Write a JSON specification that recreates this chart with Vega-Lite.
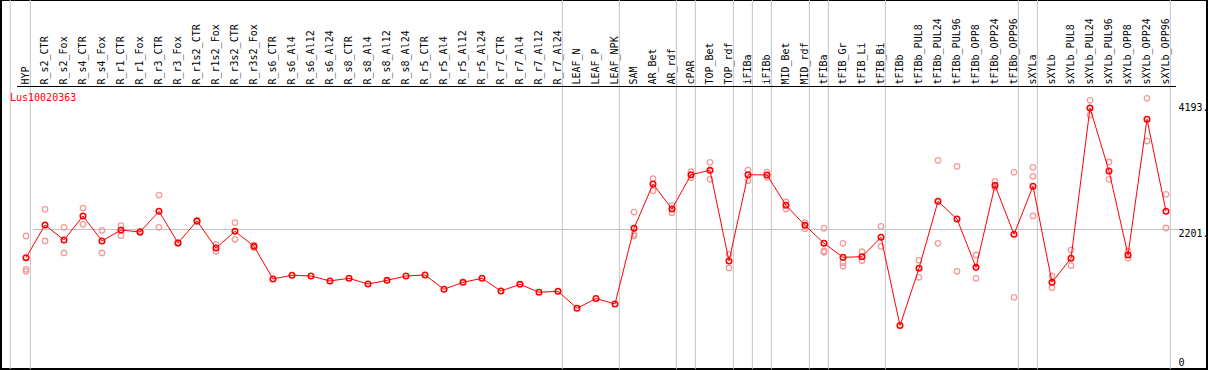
{
  "$schema": "https://vega.github.io/schema/vega-lite/v6.json",
  "width": 1206,
  "height": 369,
  "autosize": "none",
  "padding": {"left": 1, "top": 0, "right": 2, "bottom": 1},
  "background": "white",
  "title": {
    "text": "Lus10020363",
    "anchor": "start",
    "frame": "group",
    "orient": "top",
    "offset": -108,
    "baseline": "middle",
    "dx": 9,
    "color": "#ff0000",
    "font": "DejaVu Sans Mono",
    "fontSize": 10,
    "fontWeight": "normal"
  },
  "datasets": {
    "means": [
      {"cat": "HYP", "v": 1727}, {"cat": "R_s2_CTR", "v": 2265}, {"cat": "R_s2_Fox", "v": 2018},
      {"cat": "R_s4_CTR", "v": 2414}, {"cat": "R_s4_Fox", "v": 2002}, {"cat": "R_r1_CTR", "v": 2183},
      {"cat": "R_r1_Fox", "v": 2150}, {"cat": "R_r3_CTR", "v": 2491}, {"cat": "R_r3_Fox", "v": 1969},
      {"cat": "R_r1s2_CTR", "v": 2331}, {"cat": "R_r1s2_Fox", "v": 1886}, {"cat": "R_r3s2_CTR", "v": 2161},
      {"cat": "R_r3s2_Fox", "v": 1914}, {"cat": "R_s6_CTR", "v": 1376}, {"cat": "R_s6_Al4", "v": 1438},
      {"cat": "R_s6_Al12", "v": 1425}, {"cat": "R_s6_Al24", "v": 1343}, {"cat": "R_s8_CTR", "v": 1387},
      {"cat": "R_s8_Al4", "v": 1293}, {"cat": "R_s8_Al12", "v": 1354}, {"cat": "R_s8_Al24", "v": 1425},
      {"cat": "R_r5_CTR", "v": 1442}, {"cat": "R_r5_Al4", "v": 1206}, {"cat": "R_r5_Al12", "v": 1321},
      {"cat": "R_r5_Al24", "v": 1387}, {"cat": "R_r7_CTR", "v": 1178}, {"cat": "R_r7_Al4", "v": 1288},
      {"cat": "R_r7_Al12", "v": 1157}, {"cat": "R_r7_Al24", "v": 1173}, {"cat": "LEAF_N", "v": 893},
      {"cat": "LEAF_P", "v": 1054}, {"cat": "LEAF_NPK", "v": 964}, {"cat": "SAM", "v": 2211},
      {"cat": "AR_Bet", "v": 2941}, {"cat": "AR_rdf", "v": 2529}, {"cat": "cPAR", "v": 3094},
      {"cat": "TOP_Bet", "v": 3166}, {"cat": "TOP_rdf", "v": 1672}, {"cat": "iFIBa", "v": 3094},
      {"cat": "iFIBb", "v": 3090}, {"cat": "MID_Bet", "v": 2590}, {"cat": "MID_rdf", "v": 2260},
      {"cat": "tFIBa", "v": 1964}, {"cat": "tFIB_Gr", "v": 1733}, {"cat": "tFIB_Li", "v": 1743},
      {"cat": "tFIB_Bi", "v": 2063}, {"cat": "tFIBb", "v": 610}, {"cat": "tFIBb_PUL8", "v": 1552},
      {"cat": "tFIBb_PUL24", "v": 2656}, {"cat": "tFIBb_PUL96", "v": 2364}, {"cat": "tFIBb_OPP8", "v": 1568},
      {"cat": "tFIBb_OPP24", "v": 2919}, {"cat": "tFIBb_OPP96", "v": 2112}, {"cat": "sXYLa", "v": 2903},
      {"cat": "sXYLb", "v": 1321}, {"cat": "sXYLb_PUL8", "v": 1717}, {"cat": "sXYLb_PUL24", "v": 4193},
      {"cat": "sXYLb_PUL96", "v": 3155}, {"cat": "sXYLb_OPP8", "v": 1771}, {"cat": "sXYLb_OPP24", "v": 4007},
      {"cat": "sXYLb_OPP96", "v": 2491}
    ],
    "reps": [
      {"cat": "HYP", "v": 2084}, {"cat": "HYP", "v": 1535}, {"cat": "HYP", "v": 1502},
      {"cat": "R_s2_CTR", "v": 2524}, {"cat": "R_s2_CTR", "v": 2002},
      {"cat": "R_s2_Fox", "v": 2227}, {"cat": "R_s2_Fox", "v": 1804},
      {"cat": "R_s4_CTR", "v": 2545}, {"cat": "R_s4_CTR", "v": 2277},
      {"cat": "R_s4_Fox", "v": 2178}, {"cat": "R_s4_Fox", "v": 1804},
      {"cat": "R_r1_CTR", "v": 2254}, {"cat": "R_r1_CTR", "v": 2089},
      {"cat": "R_r1_Fox", "v": 2160}, {"cat": "R_r1_Fox", "v": 2140},
      {"cat": "R_r3_CTR", "v": 2759}, {"cat": "R_r3_CTR", "v": 2227},
      {"cat": "R_r3_Fox", "v": 1975}, {"cat": "R_r3_Fox", "v": 1963},
      {"cat": "R_r1s2_CTR", "v": 2340}, {"cat": "R_r1s2_CTR", "v": 2322},
      {"cat": "R_r1s2_Fox", "v": 1947}, {"cat": "R_r1s2_Fox", "v": 1832},
      {"cat": "R_r3s2_CTR", "v": 2303}, {"cat": "R_r3s2_CTR", "v": 2030},
      {"cat": "R_r3s2_Fox", "v": 1935}, {"cat": "R_r3s2_Fox", "v": 1893},
      {"cat": "SAM", "v": 2479}, {"cat": "SAM", "v": 2112}, {"cat": "SAM", "v": 2084},
      {"cat": "AR_Bet", "v": 3028}, {"cat": "AR_Bet", "v": 2830},
      {"cat": "AR_rdf", "v": 2590}, {"cat": "AR_rdf", "v": 2468},
      {"cat": "cPAR", "v": 3143}, {"cat": "cPAR", "v": 3044},
      {"cat": "TOP_Bet", "v": 3298}, {"cat": "TOP_Bet", "v": 3018},
      {"cat": "TOP_rdf", "v": 1783}, {"cat": "TOP_rdf", "v": 1557},
      {"cat": "iFIBa", "v": 3171}, {"cat": "iFIBa", "v": 2995},
      {"cat": "iFIBb", "v": 3138}, {"cat": "iFIBb", "v": 3051},
      {"cat": "MID_Bet", "v": 2644}, {"cat": "MID_Bet", "v": 2529},
      {"cat": "MID_rdf", "v": 2303}, {"cat": "MID_rdf", "v": 2204},
      {"cat": "tFIBa", "v": 2211}, {"cat": "tFIBa", "v": 1837}, {"cat": "tFIBa", "v": 1816},
      {"cat": "tFIB_Gr", "v": 1964}, {"cat": "tFIB_Gr", "v": 1644}, {"cat": "tFIB_Gr", "v": 1585},
      {"cat": "tFIB_Li", "v": 1825}, {"cat": "tFIB_Li", "v": 1677},
      {"cat": "tFIB_Bi", "v": 2244}, {"cat": "tFIB_Bi", "v": 1914},
      {"cat": "tFIBb_PUL8", "v": 1684}, {"cat": "tFIBb_PUL8", "v": 1404},
      {"cat": "tFIBb_PUL24", "v": 3331}, {"cat": "tFIBb_PUL24", "v": 1964},
      {"cat": "tFIBb_PUL96", "v": 3232}, {"cat": "tFIBb_PUL96", "v": 1502},
      {"cat": "tFIBb_OPP8", "v": 1771}, {"cat": "tFIBb_OPP8", "v": 1387},
      {"cat": "tFIBb_OPP24", "v": 2985}, {"cat": "tFIBb_OPP24", "v": 2886},
      {"cat": "tFIBb_OPP96", "v": 3133}, {"cat": "tFIBb_OPP96", "v": 1074},
      {"cat": "sXYLa", "v": 3216}, {"cat": "sXYLa", "v": 3068}, {"cat": "sXYLa", "v": 2414},
      {"cat": "sXYLb", "v": 1425}, {"cat": "sXYLb", "v": 1232},
      {"cat": "sXYLb_PUL8", "v": 1853}, {"cat": "sXYLb_PUL8", "v": 1595},
      {"cat": "sXYLb_PUL24", "v": 4320}, {"cat": "sXYLb_PUL24", "v": 4077},
      {"cat": "sXYLb_PUL96", "v": 3303}, {"cat": "sXYLb_PUL96", "v": 3018},
      {"cat": "sXYLb_OPP8", "v": 1837}, {"cat": "sXYLb_OPP8", "v": 1717},
      {"cat": "sXYLb_OPP24", "v": 4353}, {"cat": "sXYLb_OPP24", "v": 3649},
      {"cat": "sXYLb_OPP96", "v": 2771}, {"cat": "sXYLb_OPP96", "v": 2216}
    ],
    "seps": [
      {"cat": "HYP"}, {"cat": "R_r7_Al24"}, {"cat": "LEAF_NPK"}, {"cat": "AR_rdf"}, {"cat": "cPAR"},
      {"cat": "TOP_rdf"}, {"cat": "iFIBa"}, {"cat": "iFIBb"}, {"cat": "MID_rdf"}, {"cat": "tFIBa"},
      {"cat": "tFIB_Bi"}, {"cat": "tFIBb_OPP96"}, {"cat": "sXYLa"}, {"cat": "sXYLb_OPP96"}
    ],
    "start": [{"cat": "HYP"}]
  },
  "layer": [
    {
      "data": {"name": "means"},
      "mark": {"type": "point", "opacity": 0},
      "encoding": {
        "x": {
          "field": "cat", "type": "nominal", "sort": null,
          "scale": {
            "domain": ["HYP", "R_s2_CTR", "R_s2_Fox", "R_s4_CTR", "R_s4_Fox", "R_r1_CTR", "R_r1_Fox", "R_r3_CTR", "R_r3_Fox", "R_r1s2_CTR", "R_r1s2_Fox", "R_r3s2_CTR", "R_r3s2_Fox", "R_s6_CTR", "R_s6_Al4", "R_s6_Al12", "R_s6_Al24", "R_s8_CTR", "R_s8_Al4", "R_s8_Al12", "R_s8_Al24", "R_r5_CTR", "R_r5_Al4", "R_r5_Al12", "R_r5_Al24", "R_r7_CTR", "R_r7_Al4", "R_r7_Al12", "R_r7_Al24", "LEAF_N", "LEAF_P", "LEAF_NPK", "SAM", "AR_Bet", "AR_rdf", "cPAR", "TOP_Bet", "TOP_rdf", "iFIBa", "iFIBb", "MID_Bet", "MID_rdf", "tFIBa", "tFIB_Gr", "tFIB_Li", "tFIB_Bi", "tFIBb", "tFIBb_PUL8", "tFIBb_PUL24", "tFIBb_PUL96", "tFIBb_OPP8", "tFIBb_OPP24", "tFIBb_OPP96", "sXYLa", "sXYLb", "sXYLb_PUL8", "sXYLb_PUL24", "sXYLb_PUL96", "sXYLb_OPP8", "sXYLb_OPP24", "sXYLb_OPP96"],
            "range": [15.5, 1174.5],
            "paddingInner": 0,
            "paddingOuter": 0
          },
          "axis": {
            "orient": "top", "offset": -86, "title": null,
            "labelAngle": -90, "labelAlign": "left", "labelBaseline": "middle",
            "labelPadding": 2, "ticks": false, "tickSize": 0,
            "labelFont": "DejaVu Sans Mono", "labelFontSize": 10, "labelColor": "black",
            "labelOverlap": false, "labelLimit": 200,
            "domainColor": "black", "domainWidth": 1, "grid": false, "zindex": 1
          }
        },
        "y": {
          "field": "v", "type": "quantitative",
          "scale": {"domain": [-107, 5972], "nice": false, "zero": false},
          "axis": {
            "orient": "right", "offset": -31, "title": null,
            "values": [0, 2201, 4193],
            "labelExpr": "datum.value == 0 ? '0' : datum.value + '.'",
            "labelPadding": 2, "ticks": false, "tickSize": 0, "domain": false,
            "labelFont": "DejaVu Sans Mono", "labelFontSize": 10, "labelColor": "black",
            "labelAlign": "left",
            "labelBaseline": {"condition": {"test": "datum.value == 2201", "value": "top"}, "value": "middle"},
            "grid": true, "gridColor": "#c4c4c4", "gridWidth": 1,
            "gridOpacity": {"condition": {"test": "datum.value == 2201", "value": 1}, "value": 0}
          }
        }
      }
    },
    {
      "data": {"name": "seps"},
      "mark": {"type": "rule", "color": "#c4c4c4", "strokeWidth": 1},
      "encoding": {
        "x": {"field": "cat", "type": "nominal", "sort": null, "bandPosition": 0.73, "axis": {"orient": "top"}}
      }
    },
    {
      "data": {"name": "start"},
      "mark": {"type": "rule", "color": "#c4c4c4", "strokeWidth": 1},
      "encoding": {
        "x": {"field": "cat", "type": "nominal", "sort": null, "bandPosition": -0.33, "axis": {"orient": "top"}}
      }
    },
    {
      "data": {"name": "reps"},
      "mark": {"type": "point", "shape": "circle", "filled": false, "color": "#f29c9c", "size": 30, "strokeWidth": 1.3, "opacity": 1},
      "encoding": {
        "x": {"field": "cat", "type": "nominal", "sort": null, "axis": {"orient": "top"}},
        "y": {"field": "v", "type": "quantitative", "axis": {"orient": "right"}}
      }
    },
    {
      "data": {"name": "means"},
      "mark": {"type": "line", "color": "#ff0000", "strokeWidth": 1},
      "encoding": {
        "x": {"field": "cat", "type": "nominal", "sort": null, "axis": {"orient": "top"}},
        "y": {"field": "v", "type": "quantitative", "axis": {"orient": "right"}}
      }
    },
    {
      "data": {"name": "means"},
      "mark": {"type": "point", "shape": "circle", "filled": false, "color": "#ff0000", "size": 30, "strokeWidth": 1.6, "opacity": 1},
      "encoding": {
        "x": {"field": "cat", "type": "nominal", "sort": null, "axis": {"orient": "top"}},
        "y": {"field": "v", "type": "quantitative", "axis": {"orient": "right"}}
      }
    }
  ],
  "config": {
    "view": {"stroke": "black", "strokeWidth": 2},
    "axis": {"labelFontWeight": "normal"}
  }
}
